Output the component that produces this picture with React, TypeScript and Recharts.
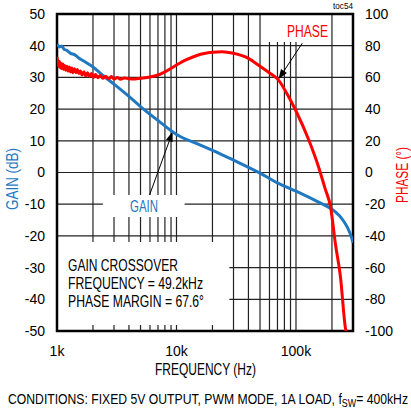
import React from 'react';
import { ComposedChart, Line, XAxis, YAxis, CartesianGrid, ReferenceLine, ReferenceArea } from 'recharts';

// gain curve (dB) vs frequency (Hz)
const gainFreq = [1000, 1050, 1100, 1150, 1200, 1300, 1400, 1500, 1700, 2000, 2500, 3000, 4000, 5000, 7000, 10000, 15000, 20000, 30000, 50000, 70000, 100000, 150000, 180000, 200000, 230000, 250000, 270000, 290000, 300000];
const gainDb = [40.5, 39.6, 39.9, 38.8, 38.6, 37.6, 37.2, 36.3, 35.0, 33.3, 30.2, 27.9, 24.0, 20.8, 16.4, 12.0, 9.0, 7.0, 3.9, -0.2, -3.3, -5.9, -9.1, -10.6, -11.6, -13.6, -15.3, -17.4, -20.2, -22.2];

// phase curve (deg) vs frequency (Hz), noisy at the low end
const phaseFreq = [1000, 1010, 1020, 1035, 1050, 1065, 1080, 1100, 1120, 1140, 1160, 1185, 1210, 1240, 1270, 1300, 1330, 1360, 1400, 1440, 1480, 1520, 1570, 1620, 1680, 1740, 1800, 1870, 1940, 2020, 2100, 2200, 2300, 2420, 2550, 2700, 2850, 3000, 3200, 3400, 3650,
  4000, 4500, 5000, 6000, 7000, 8000, 10000, 12000, 15000, 20000, 24000, 30000, 40000, 50000, 60000, 72000, 85000, 100000, 128000, 155000, 175000, 195000, 214000, 236000, 259000, 262000];
const phaseDeg = [73, 68, 71, 67, 70, 66, 69, 65.5, 68.5, 65, 67.5, 64.5, 67, 64, 66.5, 63.5, 66, 63, 65.5, 63, 65, 62.5, 64, 61.5, 63.5, 61, 63, 60.5, 62.5, 60, 61.8, 59.8, 61.2, 59.5, 60.8, 59.2, 60.5, 59, 60, 58.8, 59.6,
  59.2, 59.0, 59.4, 60.2, 61.5, 63.5, 67.8, 71, 74, 75.8, 76.2, 75.2, 72, 67, 62.8, 58, 49, 38.8, 20.5, 3.2, -10, -22, -45.3, -66.4, -97.9, -100];

const freqTicks = [1000, 10000, 100000];
const freqTickLabels = ['1k', '10k', '100k'];
const gainTicks = [-50, -40, -30, -20, -10, 0, 10, 20, 30, 40, 50];
const phaseTicks = [-100, -80, -60, -40, -20, 0, 20, 40, 60, 80, 100];
const gridFreqs = [2000, 3000, 4000, 5000, 6000, 7000, 8000, 9000, 10000, 20000, 30000, 40000, 50000, 60000, 70000, 80000, 90000, 100000, 200000];
const gridGain = [-40, -30, -20, -10, 0, 10, 20, 30, 40];

const FREQ_DOMAIN = [1000, 300000];
const GAIN_DOMAIN = [-50, 50];

const gainData = gainFreq.map((f, i) => ({ f, g: gainDb[i] }));
const phaseData = phaseFreq.map((f, i) => ({ f, p: phaseDeg[i] }));

const BLUE = '#1f78c1';
const RED = '#ff0000';
const FONT = '"Liberation Sans", Arial, sans-serif';

const Arrow = (props: any) => {
  const { x1, y1, x2, y2 } = props;
  const a = Math.atan2(y2 - y1, x2 - x1);
  const len = 10;
  const w = 3.5;
  const bx = x2 - len * Math.cos(a);
  const by = y2 - len * Math.sin(a);
  const px = -Math.sin(a) * w;
  const py = Math.cos(a) * w;
  return (
    <g>
      <line x1={x1} y1={y1} x2={bx} y2={by} stroke="#000" strokeWidth={1} />
      <polygon points={`${x2},${y2} ${bx + px},${by + py} ${bx - px},${by - py}`} fill="#000" />
    </g>
  );
};

// grid positions: use the axis scale when the grid hands it over, otherwise map via the plot offset
const vertGen = ({ xAxis, offset }: any) =>
  gridFreqs.map((f) => {
    if (xAxis && typeof xAxis.scale === 'function') return xAxis.scale(f);
    const [lo, hi] = FREQ_DOMAIN;
    return offset.left + ((Math.log10(f) - Math.log10(lo)) / (Math.log10(hi) - Math.log10(lo))) * offset.width;
  });
const horzGen = ({ yAxis, offset }: any) =>
  gridGain.map((g) => {
    if (yAxis && typeof yAxis.scale === 'function') return yAxis.scale(g);
    const [lo, hi] = GAIN_DOMAIN;
    return offset.top + ((hi - g) / (hi - lo)) * offset.height;
  });

const App: React.FC = () => {
  const tickStyle = { fontSize: 14, fill: '#000', fontFamily: FONT };
  return (
    <div style={{ position: 'absolute', left: 0, top: 0, width: 411, height: 409, background: '#fff' }}>
      <ComposedChart width={411} height={409} margin={{ top: 14, right: 8, left: 7, bottom: 48 }}>
        <CartesianGrid
          yAxisId="left"
          stroke="#222"
          strokeWidth={1.2}
          verticalCoordinatesGenerator={vertGen}
          horizontalCoordinatesGenerator={horzGen}
        />
        <XAxis
          dataKey="f"
          type="number"
          scale="log"
          domain={FREQ_DOMAIN}
          allowDataOverflow
          ticks={freqTicks}
          tickFormatter={(v: number) => freqTickLabels[freqTicks.indexOf(v)]}
          axisLine={false}
          tickLine={false}
          tickSize={0}
          tickMargin={15}
          tick={tickStyle}
          height={30}
        />
        <YAxis
          yAxisId="left"
          type="number"
          domain={GAIN_DOMAIN}
          ticks={gainTicks}
          allowDataOverflow
          axisLine={false}
          tickLine={false}
          tickSize={0}
          tickMargin={12}
          tick={tickStyle}
          width={50}
        />
        <YAxis
          yAxisId="right"
          orientation="right"
          type="number"
          domain={[-100, 100]}
          ticks={phaseTicks}
          allowDataOverflow
          axisLine={false}
          tickLine={false}
          tickSize={0}
          tickMargin={12}
          tick={{ ...tickStyle, textAnchor: 'start' }}
          width={50}
        />
        {/* white boxes behind the labels */}
        <ReferenceArea yAxisId="left" x1={1000} x2={27700} y1={-48.1} y2={-21.9} fill="#fff" fillOpacity={1} stroke="none" />
        <ReferenceArea yAxisId="left" x1={2420} x2={11700} y1={-14} y2={-7.1} fill="#fff" fillOpacity={1} stroke="none" />
        <ReferenceArea yAxisId="left" x1={52000} x2={192000} y1={41.2} y2={50} fill="#fff" fillOpacity={1} stroke="none" />
        <ReferenceLine yAxisId="left" segment={[{ x: 5950, y: -7.1 }, { x: 9300, y: 12.9 }]} shape={(p: any) => <Arrow {...p} />} />
        <ReferenceLine yAxisId="left" segment={[{ x: 113000, y: 40.8 }, { x: 71300, y: 29.4 }]} shape={(p: any) => <Arrow {...p} />} />
        <Line
          yAxisId="left"
          data={gainData}
          dataKey="g"
          type="monotone"
          stroke={BLUE}
          strokeWidth={3}
          dot={false}
          isAnimationActive={false}
        />
        <Line
          yAxisId="right"
          data={phaseData}
          dataKey="p"
          type="monotone"
          stroke={RED}
          strokeWidth={3}
          dot={false}
          isAnimationActive={false}
        />
        <ReferenceArea yAxisId="left" x1={1000} x2={300000} y1={-50} y2={50} fill="none" stroke="#000" strokeWidth={2.5} ifOverflow="visible" />
      </ComposedChart>
      <svg width={411} height={409} style={{ position: 'absolute', left: 0, top: 0, pointerEvents: 'none' }} fontFamily={FONT}>
        <text x={333} y={9} fontSize={9} textLength={20} lengthAdjust="spacingAndGlyphs" fill="#000">toc54</text>
        <text x={287} y={37} fontSize={16} textLength={41} lengthAdjust="spacingAndGlyphs" fill={RED}>PHASE</text>
        <text x={130} y={212} fontSize={16} textLength={28} lengthAdjust="spacingAndGlyphs" fill={BLUE}>GAIN</text>
        <text x={68} y={271} fontSize={16} textLength={110} lengthAdjust="spacingAndGlyphs" fill="#000">GAIN CROSSOVER</text>
        <text x={68} y={289} fontSize={16} textLength={135} lengthAdjust="spacingAndGlyphs" fill="#000">FREQUENCY  = 49.2kHz</text>
        <text x={68} y={307} fontSize={16} textLength={136} lengthAdjust="spacingAndGlyphs" fill="#000">PHASE MARGIN = 67.6°</text>
        <text x={155} y={375} fontSize={16} textLength={101} lengthAdjust="spacingAndGlyphs" fill="#000">FREQUENCY (Hz)</text>
        <text transform="translate(18,210) rotate(-90)" fontSize={16} textLength={62} lengthAdjust="spacingAndGlyphs" fill={BLUE}>GAIN (dB)</text>
        <text transform="translate(408,203) rotate(-90)" fontSize={16} textLength={56} lengthAdjust="spacingAndGlyphs" fill={RED}>PHASE (°)</text>
        <text x={8} y={404} fontSize={15} textLength={400} lengthAdjust="spacingAndGlyphs" fill="#000">
          CONDITIONS: FIXED 5V OUTPUT, PWM MODE, 1A LOAD, f
          <tspan fontSize={11} dy={3}>SW</tspan>
          <tspan dy={-3}>= 400kHz</tspan>
        </text>
      </svg>
    </div>
  );
};

export default App;
